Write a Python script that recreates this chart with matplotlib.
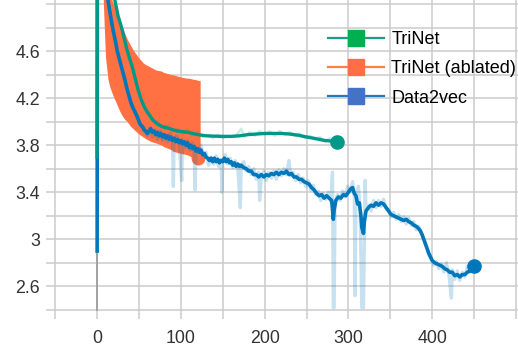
import numpy as np
import matplotlib
matplotlib.use('Agg')
import matplotlib.pyplot as plt
from matplotlib.lines import Line2D

plt.rcParams['font.family'] = ['Liberation Sans', 'DejaVu Sans']

# ===== Data =====
# TriNet, smoothed
trinet_x = [0, 0.3, 15, 21, 25, 30, 33, 36, 40, 43, 46, 49, 52, 56, 60, 64, 67, 72, 77, 82,
            87, 91, 96, 102, 108, 114, 120, 130, 140, 150, 160, 170, 180, 190, 200, 210, 220,
            230, 240, 250, 258, 265, 272, 280, 286]
trinet_y = [3.70, 6.00, 5.50, 5.04, 4.90, 4.78, 4.69, 4.60, 4.51, 4.44, 4.35, 4.27, 4.20, 4.13,
            4.08, 4.04, 4.01, 3.98, 3.96, 3.95, 3.94, 3.93, 3.92, 3.915, 3.91, 3.90, 3.89, 3.88,
            3.877, 3.875, 3.875, 3.88, 3.89, 3.895, 3.90, 3.90, 3.90, 3.895, 3.885, 3.87, 3.86,
            3.85, 3.84, 3.835, 3.83]

# TriNet, raw
trinet_raw_x = [60, 66, 72, 78, 84, 90, 96, 102, 108, 114, 120, 126, 132, 138, 144, 150, 156, 162,
                168, 172, 176, 182, 188, 194, 200, 206, 212, 218, 224, 230, 236, 242, 248, 254,
                260, 266, 272, 278, 282, 286]
trinet_raw_y = [4.10, 4.02, 4.00, 3.95, 3.97, 3.92, 3.94, 3.90, 3.93, 3.89, 3.91, 3.87, 3.89, 3.86,
                3.89, 3.86, 3.88, 3.87, 3.90, 3.94, 3.87, 3.91, 3.88, 3.92, 3.89, 3.92, 3.88, 3.92,
                3.89, 3.91, 3.88, 3.90, 3.86, 3.88, 3.85, 3.87, 3.83, 3.86, 3.82, 3.83]

# TriNet (ablated), band
ablated_x = [6, 8, 10, 13, 15, 17, 18, 21, 24, 27, 30, 33, 36, 40, 43, 49, 55, 57, 62, 65, 70,
             77, 79, 89, 90, 100, 107, 110, 115, 117, 121, 123]
ablated_hi = [5.30, 5.30, 5.30, 5.20, 5.10, 5.05, 5.03, 4.97, 4.90, 4.85, 4.80, 4.75, 4.70, 4.65,
              4.61, 4.55, 4.50, 4.49, 4.47, 4.46, 4.44, 4.43, 4.42, 4.40, 4.40, 4.38, 4.37, 4.37,
              4.36, 4.36, 4.35, 4.35]
ablated_lo = [5.30, 4.90, 4.55, 4.36, 4.30, 4.26, 4.24, 4.19, 4.14, 4.09, 4.05, 4.02, 4.00, 3.96,
              3.94, 3.90, 3.87, 3.86, 3.84, 3.83, 3.82, 3.80, 3.79, 3.76, 3.75, 3.73, 3.72, 3.71,
              3.69, 3.68, 3.66, 3.67]
ablated_end = (121, 3.69)

# Data2vec, smoothed
d2v_x = [0, 0.3, 10, 13, 16, 19, 22, 24, 27, 30, 33, 36, 38, 40, 42, 44, 46, 48, 50, 52, 54, 56,
         58, 60, 62, 64, 66, 68, 70, 72, 74, 76, 78, 80, 82, 84, 86, 88, 90, 92, 94, 96, 98, 100,
         102, 104, 106, 108, 110, 112, 114, 116, 118, 120, 122, 124, 126, 128, 130, 132, 134,
         136, 138, 140, 142, 144, 146, 148, 150, 152, 154, 156, 158, 160, 162, 164, 166, 168,
         170, 172, 175, 178, 181, 184, 187, 190, 193, 196, 199, 202, 205, 208, 211, 214, 217,
         220, 223, 226, 229, 232, 235, 238, 241, 244, 247, 250, 253, 256, 259, 262, 265, 268,
         271, 274, 277, 280, 281, 282, 283, 285, 288, 291, 294, 297, 300, 303, 305, 307, 309,
         311, 313, 315, 316, 318, 319, 321, 324, 327, 330, 333, 336, 339, 342, 345, 348, 351,
         354, 357, 360, 363, 366, 369, 372, 375, 378, 381, 384, 386, 388, 390, 392, 394, 396,
         398, 400, 403, 406, 409, 412, 415, 418, 421, 424, 427, 430, 433, 436, 439, 442, 445,
         448, 450]
d2v_y = [2.90, 5.80, 5.40, 5.03, 4.90, 4.78, 4.68, 4.60, 4.52, 4.44, 4.36, 4.27, 4.22, 4.17, 4.13,
         4.10, 4.07, 4.04, 4.00, 3.97, 3.96, 3.93, 3.92, 3.90, 3.92, 3.94, 3.91, 3.92, 3.89, 3.91,
         3.88, 3.90, 3.87, 3.89, 3.86, 3.88, 3.85, 3.87, 3.84, 3.86, 3.83, 3.85, 3.82, 3.84, 3.81,
         3.83, 3.80, 3.82, 3.78, 3.80, 3.77, 3.79, 3.75, 3.77, 3.74, 3.76, 3.72, 3.73, 3.70, 3.69,
         3.67, 3.69, 3.66, 3.69, 3.66, 3.68, 3.65, 3.67, 3.66, 3.69, 3.66, 3.68, 3.65, 3.66, 3.63,
         3.65, 3.62, 3.64, 3.62, 3.63, 3.61, 3.60, 3.58, 3.58, 3.55, 3.55, 3.53, 3.55, 3.53, 3.55,
         3.54, 3.56, 3.55, 3.57, 3.55, 3.57, 3.56, 3.58, 3.55, 3.56, 3.53, 3.53, 3.51, 3.51, 3.49,
         3.48, 3.47, 3.44, 3.42, 3.39, 3.37, 3.38, 3.35, 3.37, 3.35, 3.33, 3.25, 3.17, 3.25, 3.33,
         3.36, 3.35, 3.38, 3.37, 3.40, 3.43, 3.44, 3.39, 3.37, 3.30, 3.31, 3.20, 3.10, 3.05, 3.15,
         3.24, 3.27, 3.29, 3.28, 3.31, 3.29, 3.31, 3.30, 3.27, 3.24, 3.21, 3.20, 3.19, 3.18, 3.17,
         3.16, 3.17, 3.15, 3.14, 3.12, 3.11, 3.09, 3.07, 3.04, 3.00, 2.96, 2.92, 2.88, 2.85, 2.82,
         2.80, 2.79, 2.78, 2.77, 2.75, 2.74, 2.72, 2.72, 2.69, 2.70, 2.68, 2.70, 2.70, 2.72, 2.73,
         2.75, 2.77]

# Data2vec, raw
d2v_raw_x = [40, 44, 48, 52, 56, 60, 63, 66, 69, 72, 75, 78, 81, 84, 87, 90, 91, 92, 95, 98, 101,
             102, 105, 108, 111, 114, 116, 117, 118, 121, 124, 127, 130, 133, 136, 139, 142, 145,
             148, 149, 150, 153, 156, 159, 162, 165, 168, 171, 172, 175, 178, 181, 184, 187, 190,
             193, 194, 196, 199, 202, 205, 208, 211, 214, 217, 220, 223, 226, 229, 231, 234, 237,
             240, 243, 246, 249, 252, 255, 258, 261, 264, 267, 270, 273, 276, 279, 281, 282, 283,
             284, 287, 290, 293, 296, 299, 302, 305, 307, 308, 309, 312, 314, 316, 318, 320, 321,
             324, 327, 330, 333, 336, 339, 342, 345, 348, 351, 354, 357, 360, 363, 366, 369, 372,
             375, 378, 381, 384, 387, 390, 393, 396, 399, 402, 405, 408, 411, 414, 417, 420, 423,
             424, 427, 430, 433, 436, 439, 442, 445, 448, 450]
d2v_raw_y = [4.17, 4.10, 4.05, 3.97, 3.95, 3.88, 3.95, 3.87, 3.93, 3.85, 3.92, 3.84, 3.89, 3.83,
             3.90, 3.84, 3.45, 3.85, 3.88, 3.80, 3.50, 3.84, 3.78, 3.84, 3.76, 3.82, 3.72, 3.42,
             3.78, 3.74, 3.80, 3.70, 3.74, 3.63, 3.70, 3.64, 3.71, 3.62, 3.68, 3.40, 3.66, 3.72,
             3.64, 3.69, 3.61, 3.67, 3.60, 3.27, 3.63, 3.66, 3.58, 3.62, 3.55, 3.60, 3.51, 3.57,
             3.33, 3.53, 3.58, 3.50, 3.57, 3.52, 3.58, 3.51, 3.59, 3.54, 3.60, 3.55, 3.67, 3.54,
             3.57, 3.50, 3.55, 3.48, 3.52, 3.45, 3.50, 3.42, 3.46, 3.38, 3.41, 3.33, 3.39, 3.34,
             3.40, 3.32, 3.57, 2.42, 2.42, 3.30, 3.38, 3.33, 3.41, 3.36, 3.45, 3.40, 3.49, 3.38,
             2.52, 3.36, 3.45, 3.25, 2.42, 2.42, 3.50, 3.25, 3.29, 3.24, 3.33, 3.27, 3.33, 3.28,
             3.34, 3.26, 3.25, 3.19, 3.23, 3.17, 3.21, 3.15, 3.19, 3.13, 3.18, 3.12, 3.15, 3.08,
             3.11, 3.05, 3.00, 2.94, 2.87, 2.83, 2.78, 2.81, 2.75, 2.79, 2.72, 2.80, 2.70, 2.50,
             2.74, 2.66, 2.73, 2.65, 2.72, 2.68, 2.77, 2.72, 2.79, 2.77]

labels = ['TriNet', 'TriNet (ablated)', 'Data2vec']
yticks = [2.4, 2.6, 2.8, 3.0, 3.2, 3.4, 3.6, 3.8, 4.0, 4.2, 4.4, 4.6, 4.8, 5.0]
ytick_labels = ['', '2.6', '', '3', '', '3.4', '', '3.8', '', '4.2', '', '4.6', '', '']
xticks = [-50, 0, 50, 100, 150, 200, 250, 300, 350, 400, 450, 500]
xtick_labels = ['', '0', '', '100', '', '200', '', '300', '', '400', '', '']

GREEN = '#009988'
ORANGE = '#ff7043'
BLUE = '#0077bb'

# ===== Plot =====
fig = plt.figure(figsize=(5.18, 3.48), dpi=100)
ax = fig.add_axes([54 / 518, 37 / 348, 464 / 518, 311 / 348])
ax.set_xlim(-51.5, 502.5)
ax.set_ylim(2.39, 5.035)

for s in ax.spines.values():
    s.set_visible(False)
ax.set_yticks(yticks)
ax.set_yticklabels(ytick_labels)
ax.set_xticks(xticks)
ax.set_xticklabels(xtick_labels)
ax.grid(True, color='#cccccc', lw=1.1)
ax.set_axisbelow(True)
ax.tick_params(length=6, width=1.1, color='#cccccc', labelcolor='#333333', labelsize=12.8)
ax.tick_params(axis='y', pad=4)
ax.tick_params(axis='x', pad=8)

ax.axvline(0, color='#999999', lw=1.2, zorder=1.5)

ax.fill_between(ablated_x, ablated_lo, ablated_hi, color=ORANGE, lw=0, zorder=2)
ax.plot(*ablated_end, 'o', color=ORANGE, ms=9, zorder=2)

ax.plot(d2v_raw_x, d2v_raw_y, color=BLUE, alpha=0.22, lw=2.4, zorder=2.5)
ax.plot(d2v_x, d2v_y, color=BLUE, lw=2.6, zorder=3)
ax.plot(d2v_x[-1], d2v_y[-1], 'o', color=BLUE, ms=9.5, zorder=3)

ax.plot(trinet_raw_x, trinet_raw_y, color=GREEN, alpha=0.2, lw=1.8, zorder=3.5)
ax.plot(trinet_x, trinet_y, color=GREEN, lw=2.4, zorder=4)
ax.plot(trinet_x[-1], trinet_y[-1], 'o', color=GREEN, ms=9.5, zorder=4)

handles = [
    Line2D([], [], color='#13a085', lw=1.6, marker='s', ms=11, mfc='#00b050', mec='#00b050'),
    Line2D([], [], color='#ff8040', lw=1.6, marker='s', ms=11, mfc='#ff6e45', mec='#ff6e45'),
    Line2D([], [], color='#1f7bbf', lw=1.6, marker='s', ms=11, mfc='#4472c4', mec='#4472c4'),
]
ax.legend(handles, labels, loc='upper left', bbox_to_anchor=(328 / 518, 1 - 31 / 348),
          bbox_transform=fig.transFigure, frameon=False, fontsize=13, borderpad=0,
          handlelength=3.1, handletextpad=0.4, labelspacing=0.68, borderaxespad=0)

fig.savefig('out.png', dpi=100)
